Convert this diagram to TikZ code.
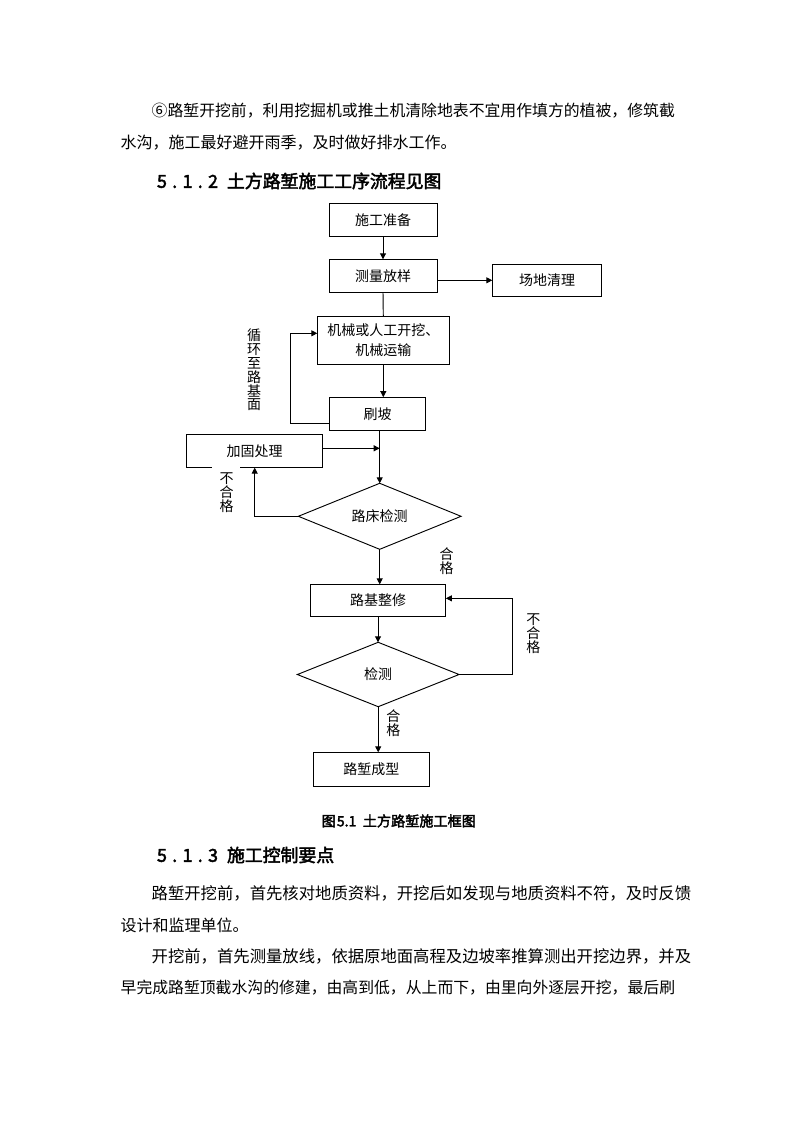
\documentclass[tikz,border=0pt]{standalone}
\usepackage{fontspec}
\setmainfont{Noto Sans CJK SC}[AutoFakeBold=2.5]
\usetikzlibrary{shapes.geometric,arrows.meta}
\begin{document}
\begin{tikzpicture}[x=0.75pt,y=-0.75pt,
  every node/.style={inner sep=0pt, outer sep=0pt},
  bx/.style 2 args={draw, line width=0.7pt, minimum width={#1*0.75pt}, minimum height={#2*0.75pt}, font=\fontsize{10.5}{15}\selectfont, align=center},
  bxn/.style 2 args={minimum width={#1*0.75pt}, minimum height={#2*0.75pt}, font=\fontsize{10.5}{15}\selectfont, align=center},
  dia/.style 2 args={draw, diamond, shape aspect=2.5, line width=0.7pt, minimum width={#1*0.75pt}, minimum height={#2*0.75pt}, font=\fontsize{10.5}{15}\selectfont},
  conn/.style={line width=0.7pt},
  arr/.style={conn, -{Triangle[length=4.5pt,width=4.5pt]}},
  vlab/.style={align=center, font=\fontsize{10.5}{10.4}\selectfont},
  body/.style={anchor=base west},
]
\useasboundingbox[fill=white] (0,0) rectangle (794,1123);

% body text
\node[body, font=\fontsize{11.89}{14}\selectfont] (p1a) at (151.7,117) {⑥路堑开挖前，利用挖掘机或推土机清除地表不宜用作填方的植被，修筑截};
\node[body, font=\fontsize{12}{14}\selectfont] (p1b) at (120.7,149) {水沟，施工最好避开雨季，及时做好排水工作。};
\node[body, font=\bfseries\fontsize{13.4}{16}\selectfont] (h1n) at (157,187.8) {\makebox[45.75pt][s]{5\hfill.\hfill1\hfill.\hfill2}};
\node[body, font=\bfseries\fontsize{13.4}{16}\selectfont] (h1t) at (227,187.8) {土方路堑施工工序流程见图};

\node[body, font=\bfseries\fontsize{10.6}{12}\selectfont] (cap) at (321.7,826.3) {图\hspace{0.75pt}\makebox[12.5pt][s]{5\hfill.\hfill1}\hspace{7pt}土方路堑施工框图};
\node[body, font=\bfseries\fontsize{13.4}{16}\selectfont] (h2n) at (157,861.8) {\makebox[45.75pt][s]{5\hfill.\hfill1\hfill.\hfill3}};
\node[body, font=\bfseries\fontsize{13.4}{16}\selectfont] (h2t) at (227,861.8) {施工控制要点};
\node[body, font=\fontsize{12.26}{14}\selectfont] (p2a) at (151.7,899.5) {路堑开挖前，首先核对地质资料，开挖后如发现与地质资料不符，及时反馈};
\node[body, font=\fontsize{12}{14}\selectfont] (p2b) at (120.7,931) {设计和监理单位。};
\node[body, font=\fontsize{12.26}{14}\selectfont] (p3a) at (151.7,962) {开挖前，首先测量放线，依据原地面高程及边坡率推算测出开挖边界，并及};
\node[body, font=\fontsize{11.88}{14}\selectfont] (p3b) at (120.7,993) {早完成路堑顶截水沟的修建，由高到低，从上而下，由里向外逐层开挖，最后刷};

% flowchart nodes
\node[bx={108}{33.4}] (prep) at (383,220) {施工准备};
\node[bx={108}{33}] (survey) at (383,275.8) {测量放样};
\node[bx={109.4}{32}] (clear) at (547,280.3) {场地清理};
\node[bx={132}{47.6}] (dig) at (383.3,340.5) {机械或人工开挖、\\机械运输};
\node[bx={96.4}{33.7}] (slope) at (377.5,414) {刷坡};
\node[bxn={136}{32.7}] (reinf) at (254.7,451.3) {加固处理};
\node[dia={162.7}{66}] (d1) at (379.7,516.3) {路床检测};
\node[bx={135.7}{31.7}] (repair) at (378,600.2) {路基整修};
\node[dia={161.7}{64.4}] (d2) at (378.2,674.5) {检测};
\node[bx={116}{34.4}] (final) at (371.3,769.5) {路堑成型};

% reinforce box border with gap
\draw[conn] ([xshift=18.75pt]reinf.south west) -- (reinf.south west) -- (reinf.north west) -- (reinf.north east) -- (reinf.south east) -- ([xshift=40pt]reinf.south west);

% labels
\node[vlab] (lbl1) at (254,370) {循\\环\\至\\路\\基\\面};
\node[vlab] (lbl2) at (226.7,492.5) {不\\合\\格};
\node[vlab] (lbl3) at (446.7,561) {合\\格};
\node[vlab] (lbl4) at (533.3,634) {不\\合\\格};
\node[vlab] (lbl5) at (393.3,723) {合\\格};

% connectors
\draw[arr] (prep.south) -- (survey.north);
\draw[arr] (survey.east |- clear.west) -- (clear.west);
\draw[conn] (survey.south) -- (dig.north);
\draw[arr] (dig.south) -- (dig.south |- slope.north);
\coordinate (lp) at (290.7,378);
\draw[arr] ([yshift=-7pt]slope.west) -| (lp) |- ([yshift=5.4pt]dig.west);
\draw[arr] (slope.south -| d1.north) -- (d1.north);
\draw[arr] ([yshift=2.25pt]reinf.east) -- ([yshift=2.25pt]reinf.east -| d1.north);
\draw[arr] (d1.west) -| (reinf.south);
\draw[arr] (d1.south) -- (d1.south |- repair.north);
\draw[arr] (repair.south) -- (repair.south |- d2.north);
\coordinate (rp) at (512.3,640);
\draw[arr] (d2.east) -| (rp) |- ([yshift=1.4pt]repair.east);
\draw[arr] (d2.south) -- (d2.south |- final.north);
\end{tikzpicture}
\end{document}
